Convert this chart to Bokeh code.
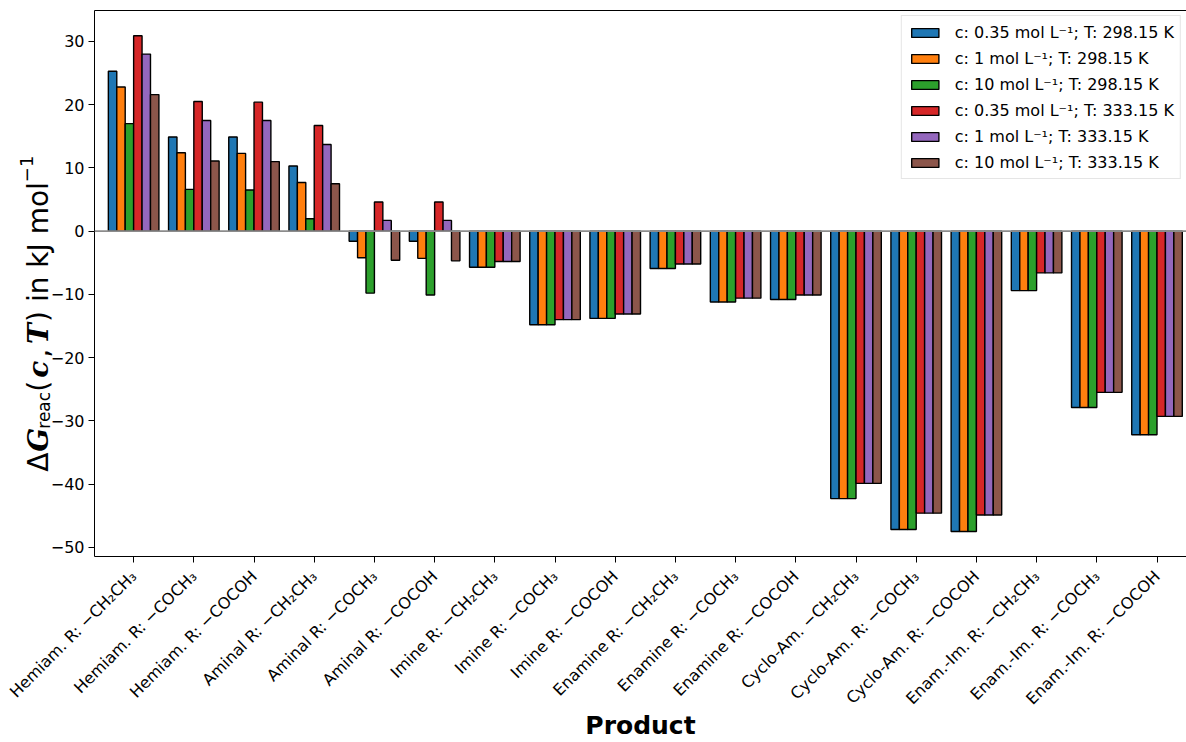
import math
from bokeh.plotting import figure
from bokeh.layouts import row
from bokeh.models import (FixedTicker, Range1d, Span, Label, Legend, LegendItem,
                          ColumnDataSource, LinearAxis)
from bokeh.embed import file_html
from bokeh.resources import INLINE

# ---------------- data ----------------
products = [
    "Hemiam. R: \u2212CH\u2082CH\u2083", "Hemiam. R: \u2212COCH\u2083", "Hemiam. R: \u2212COCOH",
    "Aminal R: \u2212CH\u2082CH\u2083", "Aminal R: \u2212COCH\u2083", "Aminal R: \u2212COCOH",
    "Imine R: \u2212CH\u2082CH\u2083", "Imine R: \u2212COCH\u2083", "Imine R: \u2212COCOH",
    "Enamine R: \u2212CH\u2082CH\u2083", "Enamine R: \u2212COCH\u2083", "Enamine R: \u2212COCOH",
    "Cyclo-Am. \u2212CH\u2082CH\u2083", "Cyclo-Am. R: \u2212COCH\u2083", "Cyclo-Am. R: \u2212COCOH",
    "Enam.-Im. R: \u2212CH\u2082CH\u2083", "Enam.-Im. R: \u2212COCH\u2083", "Enam.-Im. R: \u2212COCOH",
]

series_labels = [
    "c: 0.35 mol L\u207b\u00b9; T: 298.15 K",
    "c: 1 mol L\u207b\u00b9; T: 298.15 K",
    "c: 10 mol L\u207b\u00b9; T: 298.15 K",
    "c: 0.35 mol L\u207b\u00b9; T: 333.15 K",
    "c: 1 mol L\u207b\u00b9; T: 333.15 K",
    "c: 10 mol L\u207b\u00b9; T: 333.15 K",
]

g_035_298 = [25.3, 14.9, 14.9, 10.3, -1.6, -1.6, -5.7, -14.8, -13.8, -5.9, -11.2, -10.8, -42.3, -47.2, -47.5, -9.4, -27.9, -32.2]
g_1_298 = [22.8, 12.4, 12.3, 7.7, -4.2, -4.3, -5.7, -14.8, -13.8, -5.9, -11.2, -10.8, -42.3, -47.2, -47.5, -9.4, -27.9, -32.2]
g_10_298 = [17.0, 6.6, 6.5, 1.95, -9.8, -10.1, -5.7, -14.8, -13.8, -5.9, -11.2, -10.8, -42.3, -47.2, -47.5, -9.4, -27.9, -32.2]
g_035_333 = [30.9, 20.5, 20.4, 16.7, 4.6, 4.6, -4.8, -14.0, -13.1, -5.2, -10.6, -10.1, -39.9, -44.6, -44.9, -6.6, -25.5, -29.3]
g_1_333 = [28.0, 17.5, 17.5, 13.7, 1.7, 1.7, -4.8, -14.0, -13.1, -5.2, -10.6, -10.1, -39.9, -44.6, -44.9, -6.6, -25.5, -29.3]
g_10_333 = [21.6, 11.1, 11.0, 7.5, -4.6, -4.7, -4.8, -14.0, -13.1, -5.2, -10.6, -10.1, -39.9, -44.6, -44.9, -6.6, -25.5, -29.3]

series_values = [g_035_298, g_1_298, g_10_298, g_035_333, g_1_333, g_10_333]
colors = ["#1f77b4", "#ff7f0e", "#2ca02c", "#d62728", "#9467bd", "#8c564b"]
y_ticks = [-50, -40, -30, -20, -10, 0, 10, 20, 30]

# ---------------- layout constants ----------------
W, H = 1186, 742
LABEL_W = 200
LEFT, TOP, BOTTOM = 94, 10, 185
X0, X1 = -0.65, 17.49
Y0, Y1 = -51.46, 34.9
BAR_W = 0.14
FONT = "DejaVu Sans"

# ---------------- y axis label: panel lying underneath the chart's transparent border ----------------
lab = figure(width=LABEL_W, height=H, output_backend="svg", toolbar_location=None,
             x_range=Range1d(0, LABEL_W), y_range=Range1d(Y0, Y1),
             x_axis_type=None, y_axis_type=None,
             min_border_left=0, min_border_right=0, min_border_top=TOP,
             min_border_bottom=BOTTOM, background_fill_color="white",
             border_fill_color="white", margin=(0, -LABEL_W, 0, 0))
lab.xgrid.visible = False
lab.ygrid.visible = False
lab.outline_line_color = None

frame_h = H - TOP - BOTTOM

def ylab(text, ypix, xpix, size, style="normal", font=FONT):
    yd = Y1 - (ypix - TOP) / frame_h * (Y1 - Y0)
    lab.add_layout(Label(x=xpix, y=yd, text=text, angle=math.pi / 2,
                         text_align="left", text_baseline="alphabetic",
                         text_font=font, text_font_size=f"{size}px",
                         text_font_style=style, text_color="black"))

ylab("\u0394", 472, 38, 28)
ylab("G", 452, 38, 28, "bold italic", "DejaVu Serif")
ylab("reac", 429, 43, 17)
ylab("(", 392, 38, 28)
ylab("c", 378, 38, 28, "bold italic", "DejaVu Serif")
ylab(",", 358, 38, 28)
ylab("T", 344, 38, 28, "bold italic", "DejaVu Serif")
ylab(") in kJ mol", 322, 38, 28)
ylab("\u22121", 182, 26, 18)

# ---------------- main chart ----------------
p = figure(width=W, height=H, output_backend="svg", toolbar_location=None,
           x_range=Range1d(X0, X1), y_range=Range1d(Y0, Y1),
           min_border_left=LEFT, min_border_right=0, min_border_top=TOP,
           min_border_bottom=BOTTOM, background_fill_color="white",
           border_fill_alpha=0)
p.xgrid.visible = False
p.ygrid.visible = False
p.outline_line_color = None
xa = p.below[0]
ya = p.left[0]

items = []
x_idx = list(range(len(products)))
for k, (vals, col, lab_txt) in enumerate(zip(series_values, colors, series_labels)):
    off = (k - 2.5) * BAR_W
    src = ColumnDataSource(dict(x=[i + off for i in x_idx], top=vals))
    r = p.vbar(x="x", top="top", bottom=0, width=BAR_W, source=src,
               fill_color=col, line_color="black", line_width=1.4)
    items.append(LegendItem(label=lab_txt, renderers=[r]))

p.add_layout(Span(location=0, dimension="width", line_color="#8c8c8c", line_width=1.6))

for ax in (xa, ya):
    ax.axis_line_color = "black"
    ax.major_tick_line_color = "black"
    ax.major_tick_out = 6
    ax.major_tick_in = 0
    ax.minor_tick_line_color = None
    ax.major_label_text_font = FONT
    ax.major_label_text_font_size = "16px"
    ax.major_label_text_color = "black"
    ax.major_label_standoff = 4

xa.ticker = FixedTicker(ticks=x_idx)
xa.major_label_overrides = {i: s for i, s in zip(x_idx, products)}
xa.major_label_orientation = math.pi / 4
xa.major_label_standoff = 11
xa.axis_label = "Product"
xa.axis_label_text_font = FONT
xa.axis_label_text_font_size = "25px"
xa.axis_label_text_font_style = "bold"
xa.axis_label_text_color = "black"
xa.axis_label_standoff = -7

ya.ticker = FixedTicker(ticks=y_ticks)
ya.major_label_overrides = {t: (str(t).replace("-", "\u2212")) for t in y_ticks}

# top spine (the right spine lies outside the visible picture)
top_ax = LinearAxis(ticker=FixedTicker(ticks=[]), axis_line_color="black",
                    major_tick_line_color=None, minor_tick_line_color=None,
                    major_label_text_font_size="0px")
p.add_layout(top_ax, "above")

legend = Legend(items=items, location="top_right", margin=5, padding=6,
                spacing=6, glyph_width=34, glyph_height=11, label_height=20,
                label_standoff=13, label_text_font=FONT,
                label_text_font_size="16px", label_text_color="black",
                border_line_color="#cccccc", border_line_width=1,
                background_fill_alpha=0.8)
p.add_layout(legend)

layout = row(lab, p, spacing=0)
open("out.html", "w").write(file_html(layout, INLINE))
